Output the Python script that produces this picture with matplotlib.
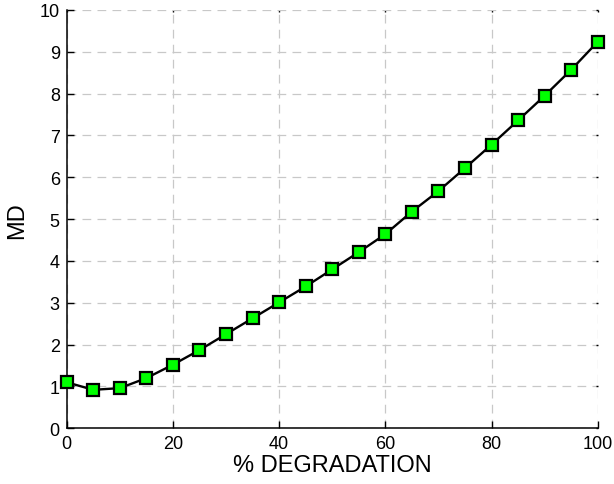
import matplotlib
matplotlib.use("Agg")
import matplotlib.pyplot as plt

# data
degradation = [0, 5, 10, 15, 20, 25, 30, 35, 40, 45, 50,
               55, 60, 65, 70, 75, 80, 85, 90, 95, 100]
md = [1.10, 0.92, 0.96, 1.20, 1.52, 1.87, 2.25, 2.63, 3.01, 3.39, 3.80,
      4.21, 4.64, 5.18, 5.67, 6.22, 6.78, 7.36, 7.95, 8.57, 9.24]
xticks = [0, 20, 40, 60, 80, 100]
yticks = list(range(0, 11))

plt.rcParams["font.family"] = ["Liberation Sans", "DejaVu Sans"]

fig = plt.figure(figsize=(6.14, 4.85), dpi=100)
ax = fig.add_axes([66.7 / 614, 1 - 429.3 / 485, (597.7 - 66.7) / 614, (429.3 - 11) / 485])

ax.plot(degradation, md, color="black", lw=1.7, marker="s", ms=8,
        mfc="#00ff00", mec="black", mew=1.6, zorder=3, clip_on=False)

ax.set_xlim(0, 100)
ax.set_ylim(0, 10)
ax.set_xticks(xticks)
ax.set_yticks(yticks)
ax.tick_params(direction="in", length=5, width=1, labelsize=13, pad=5)
# faint ticks on the open top/right edges
ax.tick_params(top=True, right=True, which="major")
for t in ax.xaxis.get_major_ticks():
    t.tick2line.set_markersize(1.5)
for t in ax.yaxis.get_major_ticks():
    t.tick2line.set_markersize(1.5)
for s in ("top", "right"):
    ax.spines[s].set_visible(False)
for s in ("left", "bottom"):
    ax.spines[s].set_linewidth(1.1)

ax.grid(True, color="#c8c8c8", ls=(0, (7, 5)), lw=0.9)
ax.set_axisbelow(True)

ax.set_xlabel("% DEGRADATION", fontsize=17, labelpad=1)
ax.set_ylabel("MD", fontsize=17, labelpad=8)

fig.savefig("out.png", dpi=100)
